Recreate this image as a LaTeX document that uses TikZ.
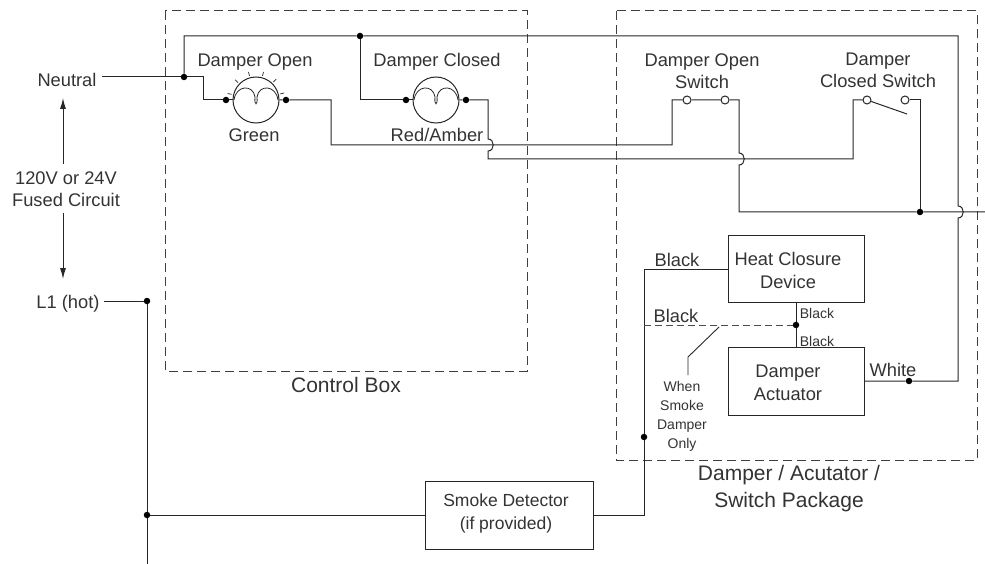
\documentclass[tikz,border=0pt]{standalone}
\usepackage{fontspec}
\setmainfont{Liberation Sans}
\usetikzlibrary{calc,arrows.meta}
\tikzset{
  wire/.style={line width=1pt,draw=black!85,line join=miter},
  dot/.style={circle,fill=black,inner sep=0pt,minimum size=6.5pt},
  term/.style={circle,draw=black!85,fill=white,line width=1pt,inner sep=0pt,minimum size=8pt},
  zone/.style={draw=black!75,line width=1pt,dash pattern=on 9pt off 5pt},
  boxn/.style={draw=black!85,line width=1pt,inner sep=0pt},
  lamp/.style={circle,draw=black!85,line width=1pt,inner sep=0pt,minimum size=46pt},
  txt/.style={anchor=base,inner sep=0pt,text=black!80,font=\fontsize{18.3}{20}\selectfont},
  smalltxt/.style={txt,font=\fontsize{14}{16}\selectfont},
  midtxt/.style={txt,font=\fontsize{17.5}{20}\selectfont},
  bigtxt/.style={txt,font=\fontsize{21}{24}\selectfont},
  arr/.style={wire,-{Latex[length=11pt,width=6pt]}},
}
\newcommand{\filament}[1]{%
  \draw[line width=0.8pt,draw=black!85] ($(#1)+(-22,0)$) .. controls ($(#1)+(-20,-15)$) and ($(#1)+(-3,-16)$) .. ($(#1)+(-1,-3)$)
    .. controls ($(#1)+(-2,6)$) and ($(#1)+(2,6)$) .. ($(#1)+(1,-3)$)
    .. controls ($(#1)+(3,-16)$) and ($(#1)+(20,-15)$) .. ($(#1)+(22,0)$);}
\begin{document}
\begin{tikzpicture}[x=1pt,y=-1pt]
\useasboundingbox (0,0) rectangle (985,564);
% zones
\draw[zone] (165,11) rectangle (527,371);
\draw[zone] (616,11) rectangle (977,460);
% lamps
\node[lamp] (lampO) at (256,100) {};
\node[lamp] (lampC) at (436,100) {};
\filament{lampO}
\filament{lampC}
\foreach \a in {14,46,75,105,136,167}
  \draw[line width=0.7pt,draw=black!85] ($(lampO)+(-\a:25)$) -- ($(lampO)+(-\a:29)$);
% boxes
\node[boxn,minimum width=136pt,minimum height=67pt] (heat) at (796,268.5) {};
\node[boxn,minimum width=136pt,minimum height=68pt] (act) at (796,381) {};
\node[boxn,minimum width=168pt,minimum height=68pt] (smoke) at (509,515) {};
% dots
\node[dot] (dN) at (184,77) {};
\node[dot] (dTop) at (360,36) {};
\node[dot] (dOl) at (226,100) {};
\node[dot] (dOr) at (286,100) {};
\node[dot] (dCl) at (406,100) {};
\node[dot] (dCr) at (466,100) {};
\node[dot] (dSw) at (920,212) {};
\node[dot] (dM) at (796,325) {};
\node[dot] (dW) at (909,381) {};
\node[dot] (dB) at (644,437) {};
\node[dot] (dL) at (147,301) {};
\node[dot] (dS) at (147,515) {};
% switch terminals
\node[term] (s1a) at (687,100) {};
\node[term] (s1b) at (725,100) {};
\node[term] (s2a) at (867,100) {};
\node[term] (s2b) at (905,100) {};
% free ends and corners
\coordinate (nIn) at (102,77);
\coordinate (lIn) at (104,301);
\coordinate (bot) at (147,564);
\coordinate (tr) at (958,36);
\coordinate (out) at (985,212);
\coordinate (arm) at (907,114);
\coordinate (jA) at (488,145);
\coordinate (jB) at (739,159);
\coordinate (jC) at (958,212);
\coordinate (blk) at (644,269);
\coordinate (blk2) at (644,325);
\coordinate (ldA) at (719,327);
\coordinate (ldB) at (688,357);
\coordinate (ldC) at (688,375);
\coordinate (upA) at (63,98);
\coordinate (upB) at (63,164);
\coordinate (dnA) at (63,213);
\coordinate (dnB) at (63,279);
% neutral and top bus
\draw[wire] (nIn) -- (dN) -- (203,77) |- (dOl) -- (lampO.west);
\draw[wire] (dN) |- (dTop) -- (tr)
  -- ($(jC)+(0,-6)$) .. controls ($(jC)+(7,-6)$) and ($(jC)+(7,6)$) .. ($(jC)+(0,6)$)
  |- (dW) -- (act.east |- dW);
\draw[wire] (dTop) |- (dCl) -- (lampC.west);
\draw[wire] (lampO.east) -- (dOr) -- (331,100) |- (672,145) |- (s1a) -- (s1b) -- (739,100)
  -- ($(jB)+(0,-6)$) .. controls ($(jB)+(7,-6)$) and ($(jB)+(7,6)$) .. ($(jB)+(0,6)$)
  |- (dSw) -- (out);
\draw[wire] (lampC.east) -- (dCr) -- (488,100)
  -- ($(jA)+(0,-6)$) .. controls ($(jA)+(7,-6)$) and ($(jA)+(7,6)$) .. ($(jA)+(0,6)$)
  |- (853,159) |- (s2a);
\draw[wire] (s2a) -- (arm);
\draw[wire] (s2b) -- (920,100) -- (dSw);
% heat and actuator
\draw[wire] (heat.south) -- (dM) -- (act.north);
\draw[wire] (heat.west |- blk) -- (blk) -- (dB) |- (smoke.east);
\draw[wire,draw=black!70,dash pattern=on 7pt off 4pt] (blk2) -- (dM);
\draw[line width=0.9pt,draw=black!85] (ldA) -- (ldB) -- (ldC);
% L1
\draw[wire] (lIn) -- (dL) -- (dS) -- (bot);
\draw[wire] (dS) -- (smoke.west);
% voltage arrows
\draw[arr] (upB) -- (upA);
\draw[arr] (dnA) -- (dnB);
% text
\node[txt] (tN) at (67,87) {Neutral};
\node[txt] (tV) at (66,185) {120V or 24V};
\node[txt] (tF) at (66,207) {Fused Circuit};
\node[txt] (tL) at (68,308) {L1 (hot)};
\node[txt] (tDO) at (255,67) {Damper Open};
\node[txt] (tDC) at (437,67) {Damper Closed};
\node[txt] (tG) at (254,142) {Green};
\node[txt] (tR) at (437,142) {Red/Amber};
\node[bigtxt] (tCB) at (346,392) {Control Box};
\node[txt] (tS1) at (702,67) {Damper Open};
\node[txt] (tS2) at (702,89) {Switch};
\node[txt] (tS3) at (878,66) {Damper};
\node[txt] (tS4) at (878,88) {Closed Switch};
\node[txt] (tH1) at (788,265) {Heat Closure};
\node[txt] (tH2) at (788,288) {Device};
\node[txt] (tA1) at (788,377) {Damper};
\node[txt] (tA2) at (788,400) {Actuator};
\node[txt] (tB1) at (677,266) {Black};
\node[txt] (tB2) at (676,322) {Black};
\node[smalltxt] (tB3) at (817,318) {Black};
\node[smalltxt] (tB4) at (817,346) {Black};
\node[txt] (tW) at (893,376) {White};
\node[smalltxt] (tW1) at (682,391) {When};
\node[smalltxt] (tW2) at (682,410) {Smoke};
\node[smalltxt] (tW3) at (682,429) {Damper};
\node[smalltxt] (tW4) at (682,448) {Only};
\node[bigtxt] (tP1) at (789,480) {Damper / Acutator /};
\node[bigtxt] (tP2) at (789,507) {Switch Package};
\node[midtxt] (tD1) at (506,506) {Smoke Detector};
\node[midtxt] (tD2) at (506,529) {(if provided)};
\end{tikzpicture}
\end{document}
